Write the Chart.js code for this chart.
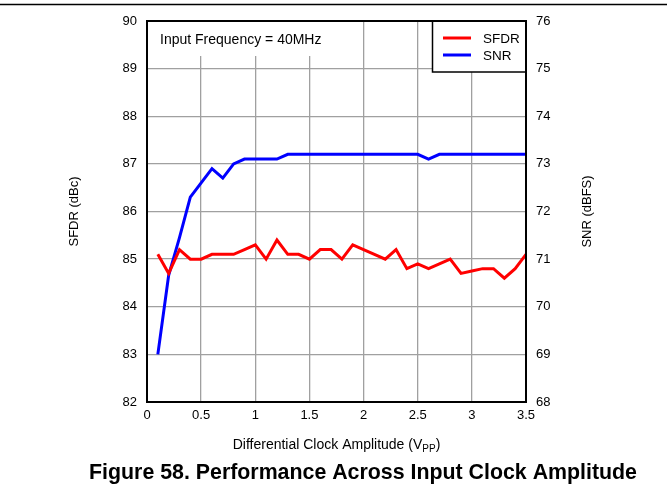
<!DOCTYPE html>
<html><head><meta charset="utf-8">
<script src="https://cdn.jsdelivr.net/npm/chart.js@4.4.1/dist/chart.umd.min.js"></script>
<style>html,body{margin:0;padding:0;background:#fff;}#wrap{width:669px;height:497px;}</style>
</head><body><div id="wrap"><canvas id="c" width="669" height="497"></canvas></div>
<script>
const amplitudes = [0.1,0.2,0.3,0.4,0.5,0.6,0.7,0.8,0.9,1.0,1.1,1.2,1.3,1.4,1.5,1.6,1.7,1.8,1.9,2.0,2.1,2.2,2.3,2.4,2.5,2.6,2.7,2.8,2.9,3.0,3.1,3.2,3.3,3.4,3.5];
const sfdrValues = [85.1,84.7,85.2,85.0,85.0,85.1,85.1,85.1,85.2,85.3,85.0,85.4,85.1,85.1,85.0,85.2,85.2,85.0,85.3,85.2,85.1,85.0,85.2,84.8,84.9,84.8,84.9,85.0,84.7,84.75,84.8,84.8,84.6,84.8,85.1];
const snrValues = [69.0,70.66,71.45,72.3,72.6,72.9,72.7,73.0,73.1,73.1,73.1,73.1,73.2,73.2,73.2,73.2,73.2,73.2,73.2,73.2,73.2,73.2,73.2,73.2,73.2,73.1,73.2,73.2,73.2,73.2,73.2,73.2,73.2,73.2,73.2];
const xTickValues = [0,0.5,1,1.5,2,2.5,3,3.5];
const xTickLabels = ['0','0.5','1','1.5','2','2.5','3','3.5'];
const sfdrTickValues = [82,83,84,85,86,87,88,89,90];
const snrTickValues = [68,69,70,71,72,73,74,75,76];
const seriesNames = ['SFDR','SNR'];
const seriesColors = ['#ff0000','#0000ff'];
const annotationText = 'Input Frequency = 40MHz';
const xTitleMain = 'Differential Clock Amplitude (V';
const xTitleSub = 'PP';
const xTitleEnd = ')';
const yLeftTitle = 'SFDR (dBc)';
const yRightTitle = 'SNR (dBFS)';
const figureTitle = 'Figure 58. Performance Across Input Clock Amplitude';

const FONT = '"Liberation Sans", Arial, sans-serif';

const decor = {
  id: 'decor',
  afterDatasetsDraw(chart) {
    const ctx = chart.ctx, a = chart.chartArea;
    ctx.save();
    // annotation box
    ctx.fillStyle = '#fff';
    ctx.fillRect(a.left, a.top, 190, 35);
    ctx.fillStyle = '#000';
    ctx.font = '14px ' + FONT;
    ctx.textBaseline = 'middle';
    ctx.textAlign = 'left';
    ctx.fillText(annotationText, a.left + 13, a.top + 19);
    // legend box
    const lx = 432.5, ly = a.top, lw = a.right - lx, lh = 51;
    ctx.fillStyle = '#fff';
    ctx.fillRect(lx, ly, lw, lh);
    ctx.strokeStyle = '#000';
    ctx.lineWidth = 1.5;
    ctx.strokeRect(lx, ly, lw, lh);
    chart.data.datasets.forEach((ds, i) => {
      const y = ly + 17 + i * 17;
      ctx.strokeStyle = ds.borderColor;
      ctx.lineWidth = 3;
      ctx.beginPath();
      ctx.moveTo(443, y); ctx.lineTo(471, y); ctx.stroke();
      ctx.fillStyle = '#000';
      ctx.font = '13.5px ' + FONT;
      ctx.fillText(ds.label, 483, y + 1);
    });
    ctx.restore();
  },
  afterDraw(chart) {
    const ctx = chart.ctx, a = chart.chartArea;
    ctx.save();
    // frame
    ctx.strokeStyle = '#000';
    ctx.lineWidth = 2;
    ctx.strokeRect(a.left, a.top, a.right - a.left, a.bottom - a.top);
    // top rule
    ctx.lineWidth = 1.3;
    ctx.beginPath(); ctx.moveTo(0, 4.5); ctx.lineTo(667, 4.5); ctx.stroke();
    // x title with subscript
    ctx.fillStyle = '#000';
    ctx.textBaseline = 'alphabetic';
    ctx.textAlign = 'left';
    const fMain = '14px ' + FONT, fSub = '10px ' + FONT;
    ctx.font = fMain; const w1 = ctx.measureText(xTitleMain).width;
    const w3 = ctx.measureText(xTitleEnd).width;
    ctx.font = fSub; const w2 = ctx.measureText(xTitleSub).width;
    let x = (a.left + a.right) / 2 - (w1 + w2 + w3) / 2;
    const by = 449;
    ctx.font = fMain; ctx.fillText(xTitleMain, x, by); x += w1;
    ctx.font = fSub; ctx.fillText(xTitleSub, x, by + 3); x += w2;
    ctx.font = fMain; ctx.fillText(xTitleEnd, x, by);
    // right y title
    ctx.save();
    ctx.translate(587, (a.top + a.bottom) / 2);
    ctx.rotate(-Math.PI / 2);
    ctx.textAlign = 'center';
    ctx.textBaseline = 'middle';
    ctx.font = '13px ' + FONT;
    ctx.fillText(yRightTitle, 0, 0);
    ctx.restore();
    // figure title
    ctx.font = 'bold 21.35px ' + FONT;
    ctx.textAlign = 'center';
    ctx.textBaseline = 'alphabetic';
    ctx.fillText(figureTitle, 363, 479);
    ctx.restore();
  }
};

const tickFont = { family: FONT, size: 13 };

new Chart(document.getElementById('c'), {
  type: 'line',
  data: {
    datasets: [
      { label: seriesNames[0], data: amplitudes.map((x, i) => ({ x, y: sfdrValues[i] })), borderColor: seriesColors[0], backgroundColor: seriesColors[0], borderWidth: 3, pointRadius: 0, tension: 0, yAxisID: 'y' },
      { label: seriesNames[1], data: amplitudes.map((x, i) => ({ x, y: snrValues[i] })), borderColor: seriesColors[1], backgroundColor: seriesColors[1], borderWidth: 3, pointRadius: 0, tension: 0, yAxisID: 'y2' }
    ]
  },
  options: {
    responsive: false,
    animation: false,
    layout: { padding: { top: 21, left: 0, right: 0, bottom: 0 } },
    plugins: { legend: { display: false }, tooltip: { enabled: false } },
    scales: {
      x: {
        type: 'linear', min: 0, max: 3.5,
        afterBuildTicks: s => { s.ticks = xTickValues.map(v => ({ value: v })); },
        afterFit: s => { s.height = 95; },
        ticks: { font: tickFont, color: '#000', padding: 6, maxRotation: 0, autoSkip: false,
                 callback: v => xTickLabels[xTickValues.indexOf(v)] },
        grid: { color: '#a0a0a0', lineWidth: 1.3, drawTicks: false },
        border: { display: false }
      },
      y: {
        position: 'left', min: 82, max: 90,
        afterBuildTicks: s => { s.ticks = sfdrTickValues.map(v => ({ value: v })); },
        afterFit: s => { s.width = 147; },
        ticks: { font: tickFont, color: '#000', padding: 10 },
        grid: { color: '#a0a0a0', lineWidth: 1.3, drawTicks: false },
        border: { display: false },
        title: { display: true, text: yLeftTitle, color: '#000', font: { family: FONT, size: 13 }, padding: { top: 67, bottom: 0 } }
      },
      y2: {
        position: 'right', min: 68, max: 76,
        afterBuildTicks: s => { s.ticks = snrTickValues.map(v => ({ value: v })); },
        afterFit: s => { s.width = 143; },
        ticks: { font: tickFont, color: '#000', padding: 10 },
        grid: { display: false, drawTicks: false },
        border: { display: false }
      }
    }
  },
  plugins: [decor]
});
</script>
</body></html>
